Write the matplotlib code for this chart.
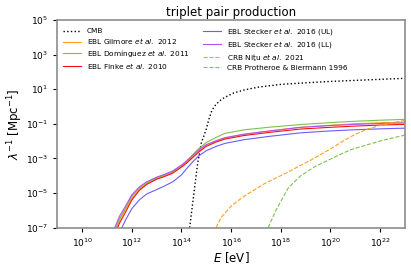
import numpy as np
import matplotlib
matplotlib.use('Agg')
import matplotlib.pyplot as plt

plt.rcParams['font.family'] = ['DejaVu Sans']
plt.rcParams['mathtext.fontset'] = 'dejavusans'

# log10(E/eV) grid for the EBL curves
logE_ebl = [11.2, 11.5, 11.75, 12.0, 12.3, 12.6, 13.0, 13.3, 13.65, 14.0, 14.2, 14.45,
            14.7, 15.0, 15.4, 15.75, 16.5, 17.5, 18.8, 20.0, 21.0, 22.0, 23.0]

# log10(1/lambda / Mpc^-1)
gilmore = [-7.7, -6.6, -5.95, -5.3, -4.78, -4.45, -4.15, -4.0, -3.8, -3.45, -3.22, -2.9,
           -2.57, -2.25, -2.0, -1.83, -1.62, -1.42, -1.2, -1.08, -0.99, -0.94, -0.9]
dominguez = [-7.6, -6.5, -5.85, -5.2, -4.72, -4.42, -4.12, -3.97, -3.77, -3.42, -3.17, -2.8,
             -2.42, -2.08, -1.78, -1.55, -1.35, -1.2, -1.04, -0.93, -0.85, -0.79, -0.74]
finke = [-7.8, -6.75, -6.1, -5.4, -4.85, -4.5, -4.2, -4.05, -3.85, -3.5, -3.28, -2.95,
         -2.62, -2.3, -2.05, -1.88, -1.68, -1.5, -1.3, -1.2, -1.13, -1.07, -1.03]
stecker_ul = [-8.4, -7.3, -6.55, -5.9, -5.4, -5.05, -4.8, -4.6, -4.35, -3.95, -3.6, -3.2,
              -2.85, -2.55, -2.3, -2.13, -1.92, -1.73, -1.52, -1.41, -1.34, -1.29, -1.25]
stecker_ll = [-7.4, -6.35, -5.75, -5.1, -4.65, -4.35, -4.08, -3.93, -3.72, -3.38, -3.15, -2.82,
              -2.5, -2.2, -1.97, -1.8, -1.6, -1.42, -1.2, -1.1, -1.03, -0.98, -0.95]

logE_cmb = [14.33, 14.45, 14.65, 14.8, 15.0, 15.1, 15.2, 15.3, 15.4, 15.55, 15.73, 16.1,
            16.5, 17.1, 18.0, 19.0, 20.0, 21.0, 22.0, 23.0]
cmb = [-7.0, -5.6, -3.3, -2.1, -1.3, -0.75, -0.32, -0.05, 0.14, 0.34, 0.52, 0.78,
       0.95, 1.12, 1.28, 1.37, 1.45, 1.51, 1.57, 1.63]

logE_nitu = [15.39, 15.6, 16.0, 16.5, 17.35, 18.2, 19.2, 20.0, 20.5, 21.0, 21.5, 22.1, 23.0]
nitu = [-7.0, -6.4, -5.75, -5.2, -4.45, -3.85, -3.1, -2.45, -2.0, -1.6, -1.3, -1.05, -0.8]

logE_proth = [17.49, 17.8, 18.3, 18.8, 19.4, 20.2, 20.8, 21.5, 22.1, 23.0]
protheroe = [-7.0, -6.0, -4.7, -4.0, -3.45, -2.9, -2.5, -2.2, -1.95, -1.65]

fig = plt.figure(figsize=(4.11, 2.70), dpi=100)
ax = fig.add_axes([0.1394, 0.1567, 0.8460, 0.7693])

lw = 0.8
E = 10 ** np.array(logE_ebl)
ax.plot(10 ** np.array(logE_cmb), 10 ** np.array(cmb), color='black', linestyle=':', linewidth=1.0, label='CMB')
ax.plot(E, 10 ** np.array(gilmore), color='#ffa020', linewidth=lw, label=r'EBL Gilmore $\it{et\ al.}$ 2012')
ax.plot(E, 10 ** np.array(dominguez), color='#80c050', linewidth=lw, label=r'EBL Domínguez $\it{et\ al.}$ 2011')
ax.plot(E, 10 ** np.array(finke), color='#ff1010', linewidth=lw, label=r'EBL Finke $\it{et\ al.}$ 2010')
ax.plot(E, 10 ** np.array(stecker_ul), color='#6a5cff', linewidth=lw, label=r'EBL Stecker $\it{et\ al.}$ 2016 (UL)')
ax.plot(E, 10 ** np.array(stecker_ll), color='#b050f0', linewidth=lw, label=r'EBL Stecker $\it{et\ al.}$ 2016 (LL)')
ax.plot(10 ** np.array(logE_nitu), 10 ** np.array(nitu), color='#ffa020', linestyle='--', linewidth=lw, label=r'CRB Niţu $\it{et\ al.}$ 2021')
ax.plot(10 ** np.array(logE_proth), 10 ** np.array(protheroe), color='#80c050', linestyle='--', linewidth=lw, label='CRB Protheroe & Biermann 1996')

ax.set_xscale('log')
ax.set_yscale('log')
ax.set_xlim(1e9, 1e23)
ax.set_ylim(1e-7, 1e5)
ax.set_xticks([10.0 ** k for k in range(10, 23, 2)])
ax.set_yticks([10.0 ** k for k in range(-7, 6, 2)])
ax.minorticks_off()
ax.tick_params(labelsize=6.5, length=3, width=0.8, color='black', direction='out')

for s in ax.spines.values():
    s.set_color('#8c8c8c')
    s.set_linewidth(1.2)

ax.set_title('triplet pair production', fontsize=8.5, pad=3)
ax.set_xlabel(r'$E$ [eV]', fontsize=8.5, labelpad=1)
ax.set_ylabel(r'$\lambda^{-1}$ [Mpc$^{-1}$]', fontsize=8.5, labelpad=1)

ax.legend(loc='upper left', ncol=2, frameon=False, fontsize=5.3, handlelength=2.4,
          handletextpad=0.8, columnspacing=1.8, labelspacing=0.25, borderaxespad=0.4)

fig.savefig('out.png', dpi=100)
